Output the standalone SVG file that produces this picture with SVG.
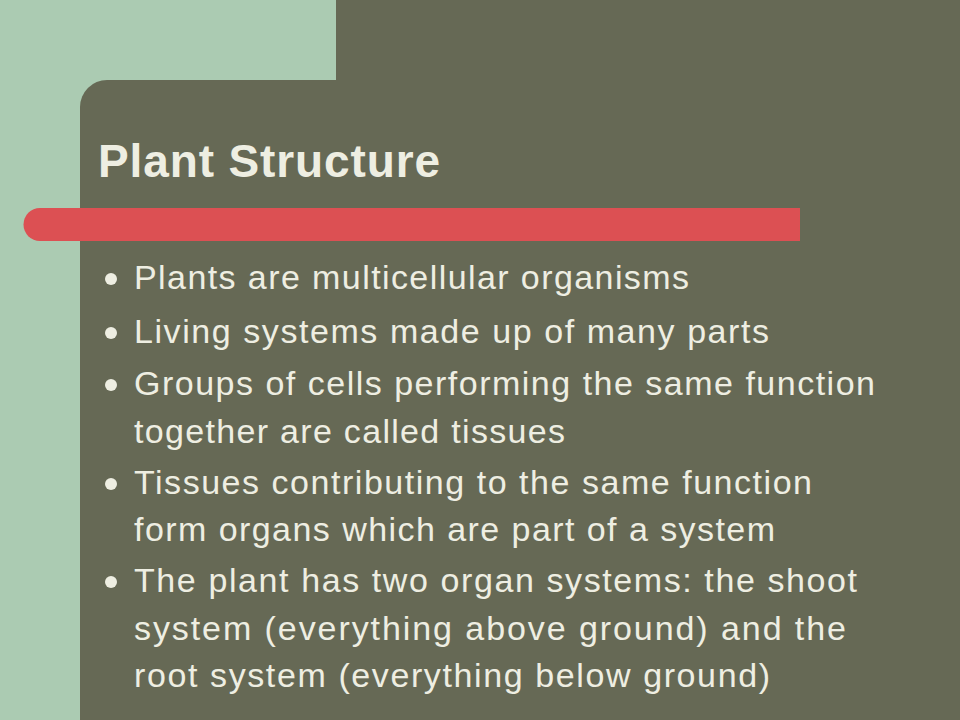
<svg xmlns="http://www.w3.org/2000/svg" width="960" height="720" viewBox="0 0 960 720">
<style>
.t{font-family:"Liberation Sans",Arial,sans-serif;fill:#EEEEE2}
.b{font-size:34px}
.d{fill:#EEEEE2}
</style>
<rect width="960" height="720" fill="#ABCBB2"/>
<rect x="336" y="0" width="624" height="720" fill="#666955"/>
<path d="M80,720 V107 A27,27 0 0 1 107,80 H960 V720 Z" fill="#666955"/>
<path d="M800,208 H40 A16.5,16.5 0 0 0 40,241 H800 Z" fill="#DC5053"/>
<text class="t" x="98" y="177" font-size="46" font-weight="bold" textLength="342" lengthAdjust="spacing">Plant Structure</text>
<g class="t b" lengthAdjust="spacing">
<text x="134" y="289" textLength="555">Plants are multicellular organisms</text>
<text x="134" y="343" textLength="635">Living systems made up of many parts</text>
<text x="134" y="395" textLength="741">Groups of cells performing the same function</text>
<text x="134" y="443" textLength="431">together are called tissues</text>
<text x="134" y="494" textLength="678">Tissues contributing to the same function</text>
<text x="134" y="541" textLength="641">form organs which are part of a system</text>
<text x="134" y="592" textLength="723">The plant has two organ systems: the shoot</text>
<text x="134" y="640" textLength="712">system (everything above ground) and the</text>
<text x="134" y="687" textLength="636">root system (everything below ground)</text>
</g>
<g class="d">
<circle cx="111" cy="279" r="6"/>
<circle cx="111" cy="333" r="6"/>
<circle cx="111" cy="385" r="6"/>
<circle cx="111" cy="484" r="6"/>
<circle cx="111" cy="582" r="6"/>
</g>
</svg>
